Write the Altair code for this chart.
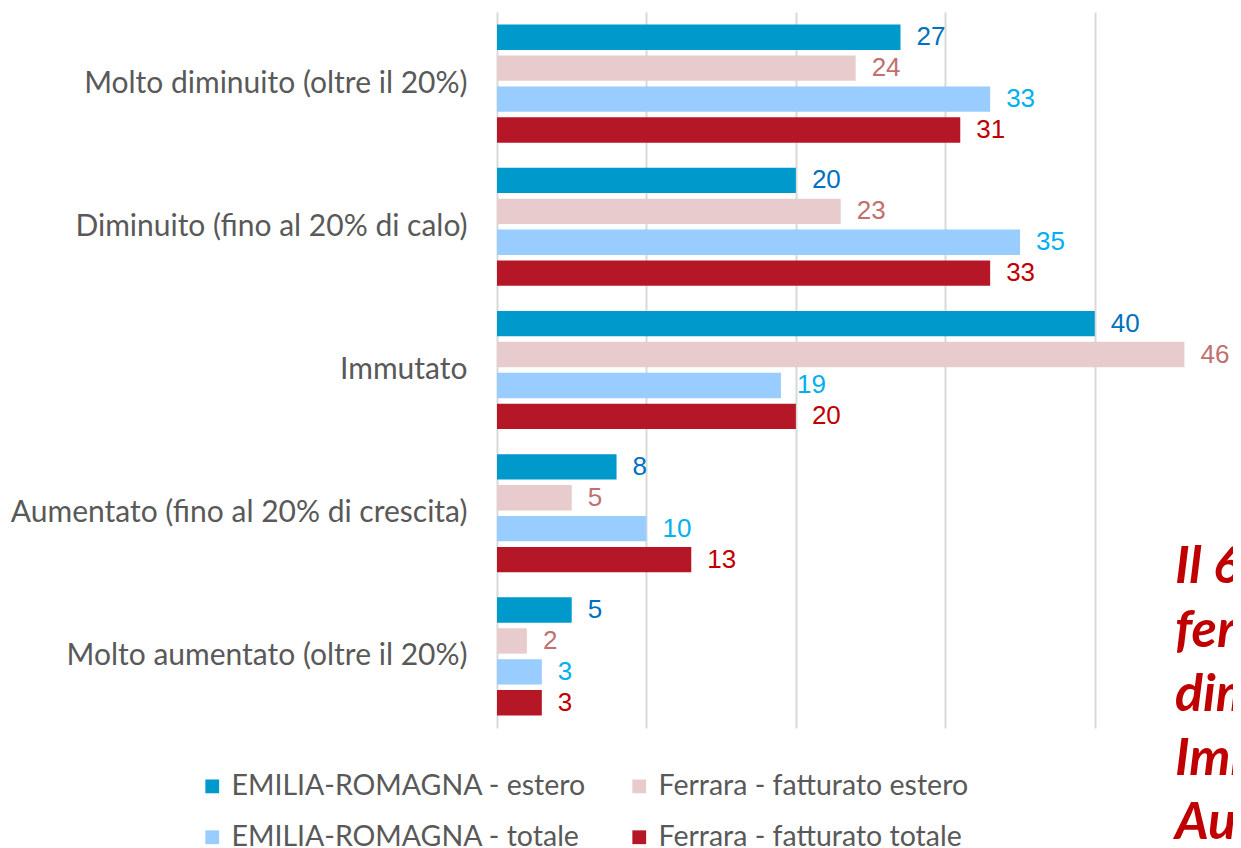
import altair as alt
import pandas as pd

categories = [
    "Molto diminuito (oltre il 20%)",
    "Diminuito (fino al 20% di calo)",
    "Immutato",
    "Aumentato (fino al 20% di crescita)",
    "Molto aumentato (oltre il 20%)",
]
series = [
    "EMILIA-ROMAGNA - estero",
    "Ferrara - fatturato estero",
    "EMILIA-ROMAGNA - totale",
    "Ferrara - fatturato totale",
]
er_estero = [27, 20, 40, 8, 5]
fe_estero = [24, 23, 46, 5, 2]
er_totale = [33, 35, 19, 10, 3]
fe_totale = [31, 33, 20, 13, 3]

bar_colors = {
    "EMILIA-ROMAGNA - estero": "#0099CC",
    "Ferrara - fatturato estero": "#E8CBCC",
    "EMILIA-ROMAGNA - totale": "#99CCFF",
    "Ferrara - fatturato totale": "#B51727",
}
label_colors = ["#0070C0", "#C07070", "#00B0F0", "#C00000"]

# legend fills column by column: order so rows read as in the reference
legend_order = [
    "EMILIA-ROMAGNA - estero",
    "EMILIA-ROMAGNA - totale",
    "Ferrara - fatturato estero",
    "Ferrara - fatturato totale",
]

annotation = [
    "Il 64% delle imprese",
    "ferraresi ha visto il fatturato",
    "diminuito;",
    "Immutato per il 20%;",
    "Aumentato per il 16%",
]

rows = []
for s, vals, lc in zip(series, [er_estero, fe_estero, er_totale, fe_totale], label_colors):
    for c, v in zip(categories, vals):
        rows.append({"cat": c, "s": s, "v": v, "lc": lc})
df = pd.DataFrame(rows)

base = alt.Chart(df).encode(
    y=alt.Y(
        "cat:N",
        sort=categories,
        scale=alt.Scale(paddingInner=0.175, paddingOuter=0.0875),
        axis=alt.Axis(
            title=None, labelFontSize=30, labelColor="#595959", labelFont="Lato",
            ticks=False, domain=False, labelPadding=30, labelLimit=0,
        ),
    ),
    yOffset=alt.YOffset("s:N", sort=series, scale=alt.Scale(paddingInner=0.18, paddingOuter=0)),
    x=alt.X(
        "v:Q",
        scale=alt.Scale(domain=[0, 49.25], nice=False),
        axis=alt.Axis(
            title=None, labels=False, ticks=False, domain=False,
            values=[0, 10, 20, 30, 40], grid=True, gridColor="#D9D9D9", gridWidth=2,
        ),
    ),
)

bars = base.mark_bar().encode(
    color=alt.Color(
        "s:N",
        scale=alt.Scale(domain=legend_order, range=[bar_colors[s] for s in legend_order]),
        legend=alt.Legend(
            title=None, orient="none", legendX=-299, legendY=760, columns=2,
            symbolType="square", symbolSize=190, symbolStrokeWidth=0,
            labelFontSize=28.5, labelFont="Lato", labelColor="#595959",
            columnPadding=38, rowPadding=22, labelOffset=5, padding=0, labelLimit=0,
        ),
    )
)

labels = base.mark_text(align="left", baseline="middle", dx=16, fontSize=26, font="Liberation Sans").encode(
    text="v:Q",
    color=alt.Color("lc:N", scale=None),
)

ann = alt.Chart(pd.DataFrame({"t": [0]})).mark_text(
    align="left", baseline="alphabetic", fontSize=52, font="Lato",
    fontStyle="italic", fontWeight="bold", color="#C00000", lineHeight=64,
).encode(
    x=alt.value(678),
    y=alt.value(571),
    text=alt.value(annotation),
)

chart = alt.layer(bars, labels, ann).properties(
    width=736,
    height=716,
    autosize=alt.AutoSizeParams(type="none"),
    padding={"left": 489, "top": 4, "right": 0, "bottom": 120},
).configure_view(stroke=None)

chart.save("out.html", embed_options={"renderer": "svg", "actions": False})
